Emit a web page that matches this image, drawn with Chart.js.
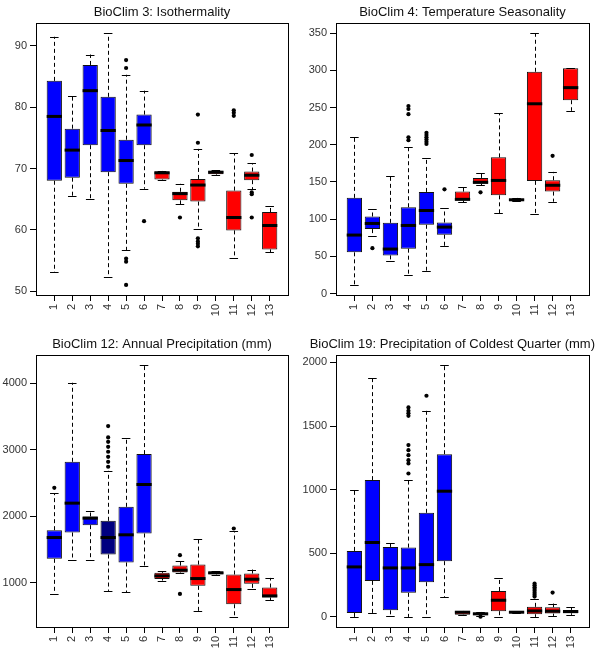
<!DOCTYPE html>
<html>
<head>
<meta charset="utf-8">
<script src="https://cdn.jsdelivr.net/npm/chart.js@4.4.1/dist/chart.umd.min.js"></script>
<style>
  body { margin: 0; background: #fff; }
  .panel { position: absolute; width: 300px; }
</style>
</head>
<body>
<div class="panel" style="left:0;top:0;height:330px"><canvas id="c1"></canvas></div>
<div class="panel" style="left:300px;top:0;height:330px"><canvas id="c2"></canvas></div>
<div class="panel" style="left:0;top:330px;height:333px"><canvas id="c3"></canvas></div>
<div class="panel" style="left:300px;top:330px;height:333px"><canvas id="c4"></canvas></div>
<script>
// groups 1..13
var cats = ['1','2','3','4','5','6','7','8','9','10','11','12','13'];

// BioClim 3: Isothermality
var isoLo  = [53.1, 65.5, 65.1, 52.3, 56.7, 66.7, 68.1, 64.2, 60.2, 68.95, 55.4, 66.6, 56.3];
var isoQ1  = [68.0, 68.5, 73.8, 69.4, 67.5, 73.8, 68.2, 64.8, 64.6, 69.05, 59.9, 68.1, 56.8];
var isoMed = [78.5, 73.0, 82.7, 76.2, 71.3, 77.1, 69.3, 65.9, 67.3, 69.4, 62.0, 68.9, 60.7];
var isoQ3  = [84.3, 76.5, 86.9, 81.7, 74.7, 78.8, 69.5, 66.2, 68.3, 69.6, 66.4, 69.5, 62.9];
var isoHi  = [91.5, 81.9, 88.6, 92.1, 85.3, 82.7, 69.6, 67.5, 73.2, 69.7, 72.5, 70.9, 63.9];
var isoOut = [[5,87.7],[5,86.4],[5,55.3],[5,54.8],[5,51.0],[6,61.4],[8,62.0],
  [9,78.8],[9,74.2],[9,58.6],[9,58.1],[9,57.7],[9,57.3],[11,79.5],[11,79.1],[11,78.6],
  [12,72.2],[12,66.1],[12,65.8],[12,62.0]];
var isoTicks = [50, 60, 70, 80, 90];

// BioClim 4: Temperature Seasonality
var tsLo  = [11.6, 76.8, 43.3, 24.6, 30.8, 63.8, 122.5, 145.5, 108, 124, 106.8, 123.4, 245.5];
var tsQ1  = [55.4, 86.6, 51.3, 60.3, 92.4, 79, 125, 147.7, 132, 125, 151.4, 137, 259.8];
var tsMed = [78.6, 94.2, 59.8, 91.5, 111.6, 89.3, 126.6, 149.5, 152, 126, 255, 145.5, 276.7];
var tsQ3  = [128.6, 103.6, 95, 116, 136.6, 95.5, 137, 155.4, 183, 127.5, 298, 152.3, 302.7];
var tsHi  = [210.7, 113.4, 158, 196.4, 182, 114.7, 142.8, 162.6, 242, 128.5, 350, 163.5, 303];
var tsOut = [[2,61],[4,252],[4,248],[4,241],[4,210],[4,206],
  [5,216],[5,213],[5,210],[5,207],[5,204],[5,201],[6,140],[8,136],[12,185]];
var tsTicks = [0, 50, 100, 150, 200, 250, 300, 350];

// BioClim 12: Annual Precipitation (mm)
var apLo  = [834, 1342, 1347, 874, 854, 1251, 1030, 1140, 568, 1120, 482, 905, 734];
var apQ1  = [1357, 1754, 1864, 1422, 1302, 1739, 1055, 1151, 950, 1126, 673, 980, 774];
var apMed = [1678, 2196, 1970, 1678, 1719, 2477, 1100, 1186, 1060, 1146, 894, 1050, 799];
var apQ3  = [1789, 2819, 1995, 1930, 2141, 2935, 1146, 1256, 1271, 1166, 1121, 1136, 925];
var apHi  = [2347, 4010, 2075, 2683, 3181, 4276, 1171, 1327, 1658, 1172, 1774, 1196, 1070];
var apOut = [[1,2427],[4,3357],[4,3186],[4,3120],[4,3045],[4,2970],[4,2894],[4,2819],[4,2744],
  [8,1412],[8,829],[11,1814]];
var apTicks = [1000, 2000, 3000, 4000];

// BioClim 19: Precipitation of Coldest Quarter (mm)
var pcLo  = [0, 31, 10, 0, 0, 157, 16, 8, 3, 34, 0, 8, 16];
var pcQ1  = [31, 283, 52, 189, 273, 438, 18, 18, 45, 35, 21, 26, 29];
var pcMed = [393, 585, 385, 385, 411, 988, 37, 24, 131, 37, 47, 45, 42];
var pcQ3  = [519, 1075, 550, 545, 818, 1279, 45, 34, 204, 39, 79, 76, 55];
var pcHi  = [1001, 1879, 577, 1075, 1620, 1979, 47, 39, 309, 40, 139, 105, 76];
var pcOut = [[4,1646],[4,1620],[4,1600],[4,1580],[4,1350],[4,1310],[4,1271],[4,1232],[4,1206],[4,1127],
  [5,1738],[8,2],[11,262],[11,248],[11,234],[11,220],[11,205],[11,190],[11,175],[11,160],[12,191]];
var pcTicks = [0, 500, 1000, 1500, 2000];

var BLUE = '#0000ff', RED = '#ff0000', NAVY = '#000080';
var colorsA = [BLUE, BLUE, BLUE, BLUE, BLUE, BLUE, RED, RED, RED, RED, RED, RED, RED];
var colorsB = [BLUE, BLUE, BLUE, NAVY, BLUE, BLUE, RED, RED, RED, RED, RED, RED, RED];

var FONT = '"Liberation Sans", Arial, sans-serif';

// whiskers, caps, medians, frame and title
var boxPlugin = {
  id: 'boxes',
  afterDatasetsDraw: function(chart) {
    var o = chart.options.plugins.boxes;
    var ctx = chart.ctx, a = chart.chartArea;
    var x = chart.scales.x, y = chart.scales.y;
    var bars = chart.getDatasetMeta(0).data;
    ctx.save();
    for (var i = 0; i < bars.length; i++) {
      var xc = x.getPixelForValue(i + 1);
      var w = bars[i].width;
      ctx.strokeStyle = '#000';
      ctx.lineWidth = 1;
      ctx.setLineDash([4, 3]);
      ctx.beginPath();
      ctx.moveTo(Math.round(xc) + 0.5, y.getPixelForValue(o.q3[i]));
      ctx.lineTo(Math.round(xc) + 0.5, y.getPixelForValue(o.hi[i]));
      ctx.moveTo(Math.round(xc) + 0.5, y.getPixelForValue(o.q1[i]));
      ctx.lineTo(Math.round(xc) + 0.5, y.getPixelForValue(o.lo[i]));
      ctx.stroke();
      ctx.setLineDash([]);
      ctx.beginPath();
      var yh = Math.round(y.getPixelForValue(o.hi[i])) + 0.5;
      var yl = Math.round(y.getPixelForValue(o.lo[i])) + 0.5;
      ctx.moveTo(xc - w * 0.28, yh); ctx.lineTo(xc + w * 0.28, yh);
      ctx.moveTo(xc - w * 0.28, yl); ctx.lineTo(xc + w * 0.28, yl);
      ctx.stroke();
      ctx.lineWidth = 3;
      ctx.beginPath();
      var ym = y.getPixelForValue(o.med[i]);
      ctx.moveTo(xc - w / 2, ym); ctx.lineTo(xc + w / 2, ym);
      ctx.stroke();
    }
    ctx.lineWidth = 1;
    ctx.strokeStyle = '#000';
    ctx.strokeRect(a.left + 0.5, a.top + 0.5, a.right - a.left, a.bottom - a.top);
    ctx.font = '13px ' + FONT;
    ctx.fillStyle = '#111';
    ctx.textAlign = 'center';
    ctx.textBaseline = 'middle';
    var tw = ctx.measureText(o.title).width;
    var cx = Math.min((a.left + a.right) / 2, chart.width - 5 - tw / 2);
    ctx.fillText(o.title, cx, o.titleY);
    ctx.restore();
  }
};

function makePanel(id, title, lo, q1, med, q3, hi, outs, yTicks, colors, padTop, padRight, xHeight, titleY) {
  var vals = lo.concat(hi, outs.map(function(p) { return p[1]; }));
  var mn = Math.min.apply(null, vals), mx = Math.max.apply(null, vals);
  var ext = (mx - mn) * 0.04;
  var n = cats.length;
  var tickCfg = { color: '#000', drawOnChartArea: false, drawTicks: true, tickLength: 6, offset: false };
  new Chart(document.getElementById(id), {
    type: 'bar',
    data: {
      datasets: [{
        type: 'bar',
        data: cats.map(function(c, i) { return { x: i + 1, y: [q1[i], q3[i]] }; }),
        backgroundColor: colors,
        borderColor: '#111',
        borderWidth: 1,
        borderSkipped: false,
        barPercentage: 0.85,
        categoryPercentage: 1.0
      }, {
        type: 'scatter',
        data: outs.map(function(p) { return { x: p[0], y: p[1] }; }),
        backgroundColor: '#000',
        borderWidth: 0,
        pointRadius: 2.1
      }]
    },
    options: {
      responsive: true,
      maintainAspectRatio: false,
      animation: false,
      layout: { padding: { top: padTop, right: padRight, left: 0, bottom: 0 } },
      plugins: {
        legend: { display: false },
        tooltip: { enabled: false },
        boxes: { lo: lo, q1: q1, med: med, q3: q3, hi: hi, title: title, titleY: titleY }
      },
      scales: {
        x: {
          type: 'linear',
          offset: false,
          min: 0.5 - 0.04 * n,
          max: n + 0.5 + 0.04 * n,
          grid: tickCfg,
          border: { display: false },
          afterBuildTicks: function(s) { s.ticks = cats.map(function(c, i) { return { value: i + 1 }; }); },
          afterFit: function(s) { s.height = xHeight; },
          ticks: {
            autoSkip: false, minRotation: 90, maxRotation: 90, padding: 3,
            color: '#333', font: { family: FONT, size: 11 },
            callback: function(v, i) { return cats[i]; }
          }
        },
        y: {
          min: mn - ext,
          max: mx + ext,
          grid: tickCfg,
          border: { display: false },
          afterBuildTicks: function(s) { s.ticks = yTicks.map(function(v) { return { value: v }; }); },
          afterFit: function(s) { s.width = 36; },
          ticks: {
            padding: 3, color: '#333', font: { family: FONT, size: 11 },
            callback: function(v) { return String(v); }
          }
        }
      }
    },
    plugins: [boxPlugin]
  });
}

makePanel('c1', 'BioClim 3: Isothermality', isoLo, isoQ1, isoMed, isoQ3, isoHi, isoOut, isoTicks, colorsA, 23, 12, 35, 12);
makePanel('c2', 'BioClim 4: Temperature Seasonality', tsLo, tsQ1, tsMed, tsQ3, tsHi, tsOut, tsTicks, colorsA, 23, 11, 35, 12);
makePanel('c3', 'BioClim 12: Annual Precipitation (mm)', apLo, apQ1, apMed, apQ3, apHi, apOut, apTicks, colorsB, 25, 12, 36, 14);
makePanel('c4', 'BioClim 19: Precipitation of Coldest Quarter (mm)', pcLo, pcQ1, pcMed, pcQ3, pcHi, pcOut, pcTicks, colorsA, 25, 11, 36, 14);
</script>
</body>
</html>
